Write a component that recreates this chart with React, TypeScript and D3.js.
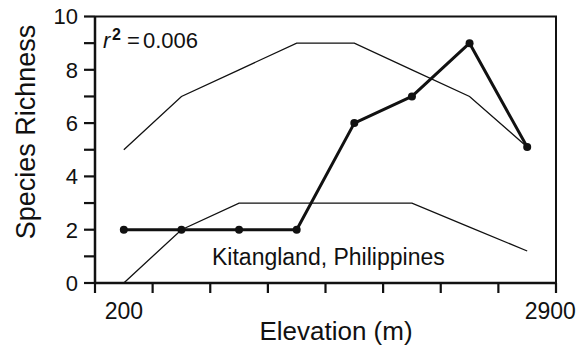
import React from "react";
import * as d3 from "d3";

const W = 582;
const H = 349;

const binIndex = [0, 1, 2, 3, 4, 5, 6, 7];
const observed = [2, 2, 2, 2, 6, 7, 9, 5.1];
const upperBound = [5, 7, 8, 9, 9, 8, 7, 5.1];
const lowerBound = [0, 2, 3, 3, 3, 3, 2.1, 1.2];
const xTickLabels = ["200", "2900"];
const xTickLabelPos = [0.5, 7.9];
const yMajorTicks = [0, 2, 4, 6, 8, 10];
const yMinorTicks = [1, 3, 5, 7, 9];
const xTicks = [0, 1, 2, 3, 4, 5, 6, 7, 8];

const FONT = "'Liberation Sans', Arial, Helvetica, sans-serif";

export default function App() {
  const left = 95;
  const right = 556;
  const top = 16.5;
  const bottom = 283;

  const x = d3.scaleLinear().domain([0, 8]).range([left, right]);
  const y = d3.scaleLinear().domain([0, 10]).range([bottom, top]);

  const line = d3
    .line<number>()
    .x((_, i) => x(binIndex[i] + 0.5))
    .y((d) => y(d));

  return (
    <svg
      width={W}
      height={H}
      style={{ position: "absolute", left: 0, top: 0, background: "#fff" }}
      fontFamily={FONT}
    >
      <rect x={0} y={0} width={W} height={H} fill="#fff" />
      {/* frame */}
      <path
        d={`M${left},${top} H${right} V${bottom + 8}`}
        fill="none"
        stroke="#111"
        strokeWidth={2}
      />
      <line x1={left} y1={top} x2={left} y2={bottom} stroke="#111" strokeWidth={2.5} />
      <line x1={left} y1={bottom} x2={right} y2={bottom} stroke="#111" strokeWidth={2.5} />

      {/* y ticks */}
      {[...yMajorTicks, ...yMinorTicks].map((t) => (
        <line key={"yt" + t} x1={left - 11} x2={left} y1={y(t)} y2={y(t)} stroke="#111" strokeWidth={2.2} />
      ))}
      {yMajorTicks.map((t) => (
        <text
          key={"yl" + t}
          x={78}
          y={y(t)}
          dy="0.36em"
          textAnchor="end"
          fontSize={22}
          fill="#111"
        >
          {t}
        </text>
      ))}

      {/* x ticks */}
      {xTicks.map((t) => (
        <line key={"xt" + t} x1={x(t)} x2={x(t)} y1={bottom} y2={bottom + 10} stroke="#111" strokeWidth={2.2} />
      ))}
      {xTickLabels.map((l, i) => (
        <text key={"xl" + l} x={x(xTickLabelPos[i])} y={319} textAnchor="middle" fontSize={23} fill="#111">
          {l}
        </text>
      ))}

      {/* axis titles */}
      <text x={336} y={340} textAnchor="middle" fontSize={26} fill="#111">
        Elevation (m)
      </text>
      <text
        transform={`translate(35,132) rotate(-90)`}
        textAnchor="middle"
        fontSize={27}
        fill="#111"
      >
        Species Richness
      </text>

      {/* bounds */}
      <path d={line(upperBound) || ""} fill="none" stroke="#111" strokeWidth={1.3} />
      <path d={line(lowerBound) || ""} fill="none" stroke="#111" strokeWidth={1.3} />

      {/* observed */}
      <path d={line(observed) || ""} fill="none" stroke="#111" strokeWidth={3} strokeLinejoin="round" />
      {observed.map((v, i) => (
        <circle key={"pt" + i} cx={x(binIndex[i] + 0.5)} cy={y(v)} r={4} fill="#111" />
      ))}

      {/* annotations */}
      <text y={48} fontSize={22} fill="#111">
        <tspan x={103} fontStyle="italic">r</tspan>
        <tspan x={112} y={40} fontSize={16} fontWeight="bold">2</tspan>
        <tspan x={127} y={48}>=</tspan>
        <tspan x={143} y={48}>0.006</tspan>
      </text>
      <text x={212} y={265} fontSize={23} fill="#111">
        Kitangland, Philippines
      </text>
    </svg>
  );
}
